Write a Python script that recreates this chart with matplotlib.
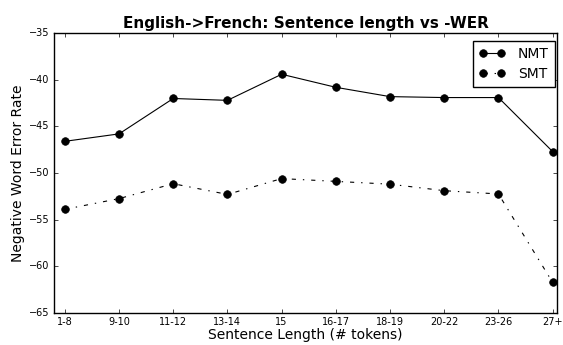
import matplotlib
matplotlib.use("Agg")
import matplotlib.pyplot as plt

plt.style.use("classic")

categories = ["1-8", "9-10", "11-12", "13-14", "15", "16-17", "18-19", "20-22", "23-26", "27+"]
nmt = [-46.6, -45.8, -42.0, -42.2, -39.4, -40.8, -41.8, -41.9, -41.9, -47.7]
smt = [-53.9, -52.75, -51.15, -52.3, -50.6, -50.9, -51.2, -51.9, -52.25, -61.75]

fig = plt.figure(figsize=(5.63, 3.45), dpi=100, facecolor="white")
ax = fig.add_axes([0.0959, 0.0936, 0.8934, 0.8099])

x = range(len(categories))
ax.plot(x, nmt, "k-", marker="o", markersize=5.5, linewidth=0.8, label="NMT")
ax.plot(x, smt, "k-.", marker="o", markersize=5.5, linewidth=0.8, label="SMT")

ax.set_xlim(-0.2, 9.08)
ax.set_ylim(-65, -35)
ax.set_xticks(list(x))
ax.set_xticklabels(categories)
ax.tick_params(which="major", labelsize=7, length=3, pad=3)
ax.set_xlabel("Sentence Length (# tokens)", fontsize=10, labelpad=1)
ax.set_ylabel("Negative Word Error Rate", fontsize=10, labelpad=3)
ax.set_title("English->French: Sentence length vs -WER", fontsize=11,
             fontweight="bold", pad=4)
ax.legend(loc="upper right", bbox_to_anchor=(0.996, 0.9735), borderaxespad=0,
          fontsize=10, numpoints=2, handlelength=1.9, handletextpad=0.9,
          borderpad=0.45, labelspacing=0.45, fancybox=False)

fig.savefig("out.png", dpi=100, facecolor="white")
